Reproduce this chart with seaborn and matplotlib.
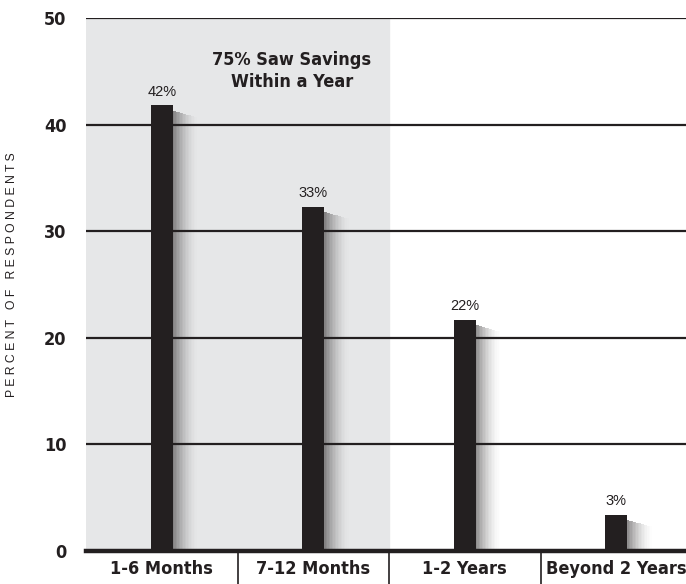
import seaborn as sns
import matplotlib.pyplot as plt
import pandas as pd
from matplotlib import font_manager

categories = ['1-6 Months', '7-12 Months', '1-2 Years', 'Beyond 2 Years']
percents = [41.8, 32.3, 21.7, 3.4]
value_labels = ['42%', '33%', '22%', '3%']
y_ticks = [0, 10, 20, 30, 40, 50]
note = '75% Saw Savings\nWithin a Year'

df = pd.DataFrame({'period': categories, 'percent': percents})

sns.set_style('white')
plt.rcParams['font.family'] = ['Liberation Sans', 'DejaVu Sans']

# condensed bold face for headings / ticks
cond = font_manager.FontProperties(family='DejaVu Sans', stretch='condensed',
                                   weight='bold', size=13)

fig = plt.figure(figsize=(6.86, 5.84), dpi=100)
ax = fig.add_axes([86 / 686, 33 / 584, 1 - 86 / 686, 533 / 584])

# shaded region for the first two categories
ax.axvspan(-0.5, 1.5, color='#e6e7e8', zorder=0)

# grid lines
for t in y_ticks[1:]:
    ax.axhline(t, color='#231f20', lw=1.6, zorder=1)

# soft shadow to the right of each bar
bw = 0.145
n = 16
dw = 0.010
for k in range(n):
    a = 0.5 * (1 - k / n) ** 1.6
    for i, v in enumerate(percents):
        ax.bar(i + bw / 2 + (k + 0.5) * dw, v - 0.5 - k * 0.04, width=dw,
               color='#231f20', alpha=a, linewidth=0, zorder=2)

sns.barplot(data=df, x='period', y='percent', ax=ax, color='#231f20',
            width=bw, saturation=1, linewidth=0, zorder=3)

# seaborn resets the limits, so set them afterwards
ax.set_xlim(-0.5, 3.46)
ax.set_ylim(0, 50)

for i, (v, lab) in enumerate(zip(percents, value_labels)):
    ax.text(i, v + 1.3, lab, ha='center', va='center', fontsize=10.5,
            color='#231f20')

ax.text(0.86, 45.0, note, ha='center', va='center', fontproperties=cond,
        color='#231f20', linespacing=1.3)

ax.set_yticks(y_ticks)
ax.set_yticklabels([str(t) for t in y_ticks], fontproperties=cond,
                   color='#231f20')
ax.tick_params(axis='y', length=0, pad=14)
ax.set_xticks([])
ax.set_xlabel('')
ax.set_ylabel('')
for s in ['top', 'right', 'left']:
    ax.spines[s].set_visible(False)
ax.spines['bottom'].set_linewidth(3.2)
ax.spines['bottom'].set_color('#231f20')
ax.spines['bottom'].set_zorder(5)

# category labels and separators below the axis
for i, c in enumerate(categories):
    ax.text(i, -1.65, c, ha='center', va='center',
            fontproperties=cond, color='#231f20', clip_on=False)
for i in range(1, len(categories)):
    ax.plot([i - 0.5, i - 0.5], [0, -4], color='#231f20', lw=1.2,
            clip_on=False)

fig.text(12 / 686, 1 - 275 / 584, 'P E R C E N T   O F   R E S P O N D E N T S',
         rotation=90, ha='center', va='center', fontsize=8.8,
         color='#231f20')

fig.savefig('out.png', dpi=100)
